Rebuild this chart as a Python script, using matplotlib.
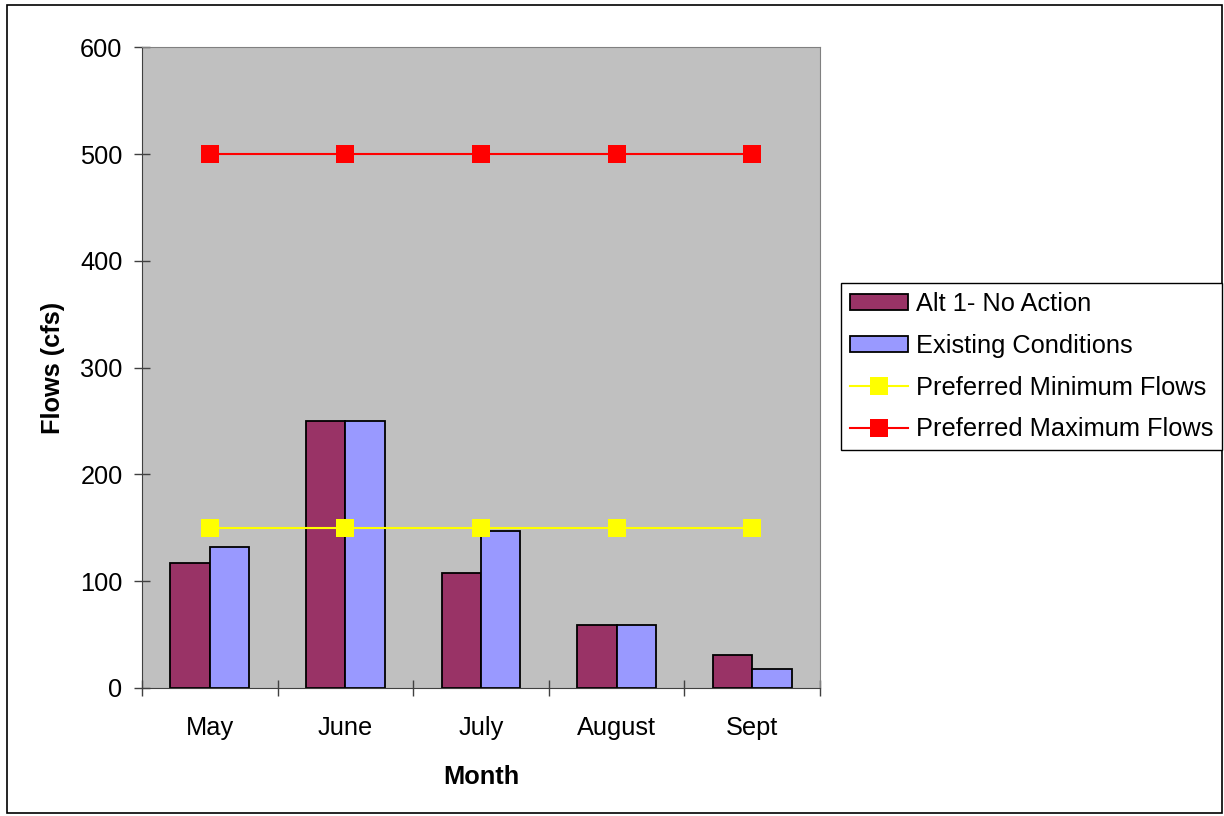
import matplotlib.pyplot as plt
import numpy as np
from matplotlib.patches import Rectangle

plt.rcParams["font.family"] = ["Liberation Sans", "DejaVu Sans"]

months = ["May", "June", "July", "August", "Sept"]
alt1_no_action = [117, 250, 108, 59, 31]
existing_conditions = [132, 250, 147, 59, 18]
preferred_min = [150, 150, 150, 150, 150]
preferred_max = [500, 500, 500, 500, 500]

fs = 18.3

fig = plt.figure(figsize=(12.24, 8.16), dpi=100)
ax = fig.add_axes([0.116, 0.157, 0.554, 0.785])
ax.set_facecolor("#c0c0c0")

x = np.arange(len(months))
width = 0.29
b1 = ax.bar(x - width / 2, alt1_no_action, width, color="#993366", edgecolor="black",
            linewidth=1.3, label="Alt 1- No Action", zorder=2)
b2 = ax.bar(x + width / 2, existing_conditions, width, color="#9999ff", edgecolor="black",
            linewidth=1.3, label="Existing Conditions", zorder=2)
l1, = ax.plot(x, preferred_min, color="#ffff00", linewidth=1.5, marker="s", markersize=13,
              markeredgewidth=0, label="Preferred Minimum Flows", zorder=3)
l2, = ax.plot(x, preferred_max, color="#ff0000", linewidth=1.5, marker="s", markersize=13,
              markeredgewidth=0, label="Preferred Maximum Flows", zorder=3)

ax.set_xlim(-0.5, len(months) - 0.5)
ax.set_ylim(0, 600)
ax.set_yticks(range(0, 601, 100))
ax.set_xticks(np.arange(-0.5, len(months), 1.0))
ax.set_xticklabels([])
ax.set_xticks(x, minor=True)
ax.set_xticklabels(months, minor=True)
ax.tick_params(axis="x", which="major", direction="inout", length=12, width=1, color="#404040")
ax.tick_params(axis="x", which="minor", length=0, pad=20, labelsize=fs)
ax.tick_params(axis="y", direction="inout", length=12, width=1, color="#404040",
               labelsize=fs, pad=8)

for side in ["top", "right"]:
    ax.spines[side].set_color("#808080")
for side in ["left", "bottom"]:
    ax.spines[side].set_color("#404040")

ax.set_xlabel("Month", fontsize=fs, fontweight="bold", labelpad=18)
ax.set_ylabel("Flows (cfs)", fontsize=fs, fontweight="bold", labelpad=11)

leg = fig.legend([b1, b2, l1, l2],
                 ["Alt 1- No Action", "Existing Conditions",
                  "Preferred Minimum Flows", "Preferred Maximum Flows"],
                 loc="upper left", bbox_to_anchor=(0.687, 0.653), fontsize=fs,
                 frameon=True, fancybox=False, edgecolor="black", framealpha=1,
                 borderpad=0.35, labelspacing=0.7, handlelength=2.3, handleheight=0.55,
                 handletextpad=0.3, borderaxespad=0)
leg.get_frame().set_linewidth(1)

fig.patches.append(Rectangle((0.006, 0.004), 0.992, 0.99, transform=fig.transFigure,
                             fill=False, edgecolor="black", linewidth=1.2))

fig.savefig("out.png", dpi=100)
